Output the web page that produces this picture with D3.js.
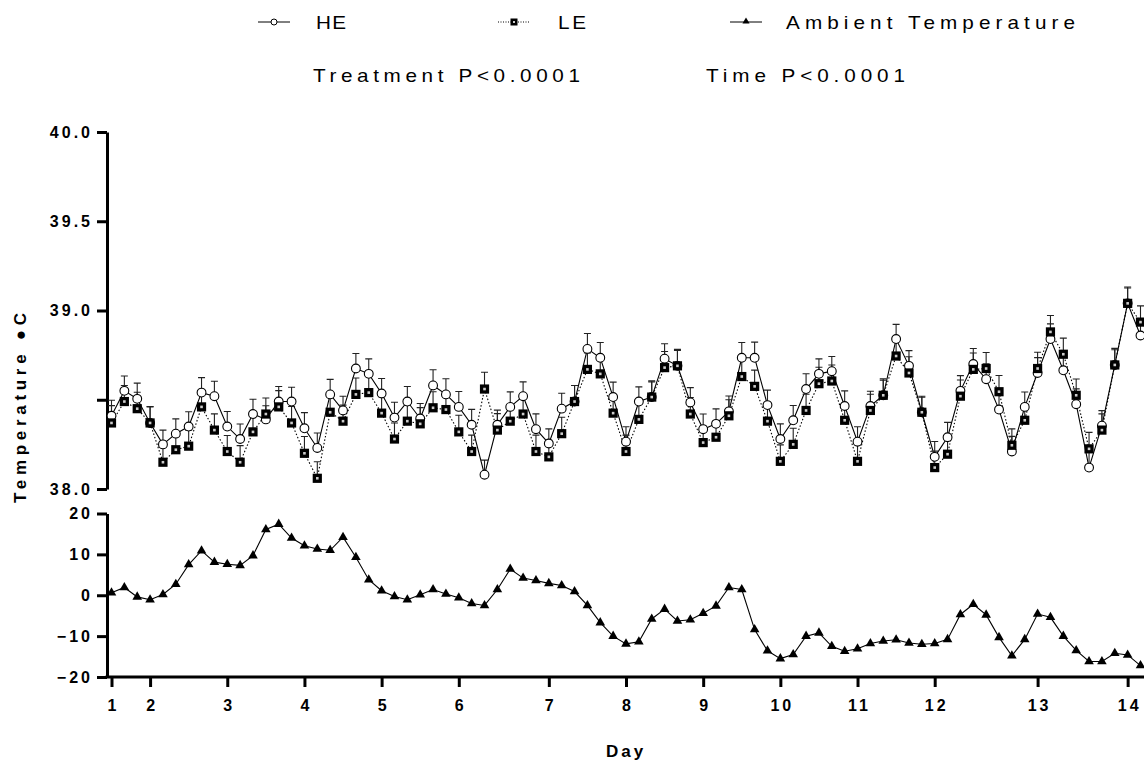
<!DOCTYPE html>
<html>
<head>
<meta charset="utf-8">
<script src="https://cdn.jsdelivr.net/npm/d3@7"></script>
<style>
  body { margin: 0; background: #fff; }
  text { font-family: "Liberation Sans", Arial, sans-serif; fill: #000; }
</style>
</head>
<body>
<svg id="chart" width="1144" height="768"></svg>
<script>
// Sampling points (every 4 h) with the day labels placed on them
const dayTicks  = [0, 3, 9, 15, 21, 27, 34, 40, 46, 52, 58, 64, 72, 79];
const dayLabels = ["1","2","3","4","5","6","7","8","9","10","11","12","13","14"];

// Body temperature, high-energy group (mean, °C)
const heMean = [38.41,38.55,38.505,38.37,38.25,38.31,38.35,38.54,38.52,38.35,38.28,38.42,38.39,38.49,38.49,38.34,38.23,38.53,38.44,38.675,38.645,
  38.535,38.40,38.49,38.395,38.58,38.53,38.46,38.36,38.08,38.36,38.46,38.52,38.335,38.255,38.45,38.49,38.785,38.735,38.515,38.265,
  38.49,38.515,38.73,38.69,38.485,38.335,38.365,38.435,38.735,38.735,38.47,38.28,38.385,38.56,38.645,38.66,38.465,38.265,38.465,38.525,
  38.84,38.69,38.43,38.18,38.29,38.55,38.70,38.615,38.445,38.21,38.46,38.65,38.84,38.665,38.475,38.12,38.355,38.695,39.04,38.86];
// Standard error, high-energy group
const heSem = [0.087,0.083,0.088,0.092,0.080,0.083,0.083,0.084,0.084,0.084,0.084,0.083,0.076,0.084,0.080,0.088,0.084,0.084,0.080,0.084,0.084,
  0.084,0.086,0.084,0.084,0.088,0.088,0.086,0.086,0.082,0.082,0.084,0.080,0.086,0.082,0.086,0.090,0.086,0.086,0.084,0.084,
  0.082,0.085,0.084,0.086,0.083,0.085,0.084,0.086,0.086,0.088,0.084,0.085,0.083,0.086,0.084,0.082,0.085,0.084,0.083,0.084,
  0.082,0.085,0.084,0.086,0.083,0.085,0.087,0.086,0.084,0.085,0.083,0.086,0.085,0.084,0.086,0.085,0.084,0.085,0.086,0.085];

// Body temperature, low-energy group (mean, °C)
const leMean = [38.37,38.49,38.45,38.37,38.15,38.22,38.24,38.46,38.33,38.21,38.15,38.32,38.42,38.46,38.37,38.20,38.06,38.43,38.38,38.53,38.54,
  38.425,38.28,38.38,38.365,38.455,38.445,38.32,38.21,38.56,38.33,38.38,38.42,38.21,38.18,38.31,38.49,38.67,38.645,38.425,38.21,
  38.39,38.515,38.68,38.69,38.42,38.26,38.29,38.41,38.63,38.575,38.38,38.155,38.25,38.44,38.59,38.605,38.385,38.155,38.44,38.525,
  38.745,38.65,38.43,38.12,38.195,38.52,38.67,38.675,38.545,38.245,38.385,38.675,38.88,38.755,38.525,38.225,38.33,38.695,39.04,38.935];
// Standard error, low-energy group
const leSem = [0.097,0.090,0.092,0.090,0.093,0.092,0.090,0.092,0.091,0.090,0.093,0.092,0.090,0.091,0.092,0.094,0.093,0.092,0.090,0.092,0.091,
  0.092,0.090,0.092,0.091,0.090,0.092,0.093,0.092,0.094,0.092,0.090,0.091,0.092,0.093,0.092,0.090,0.092,0.091,0.090,0.092,
  0.092,0.091,0.090,0.092,0.093,0.092,0.091,0.090,0.092,0.091,0.093,0.092,0.090,0.091,0.092,0.090,0.092,0.093,0.091,0.092,
  0.092,0.091,0.090,0.092,0.093,0.091,0.092,0.090,0.091,0.092,0.093,0.091,0.092,0.090,0.091,0.092,0.091,0.093,0.092,0.091];

// Ambient temperature (°C)
const ambient = [0.6,1.9,-0.4,-1.1,0.2,2.7,7.5,10.9,8.1,7.6,7.3,9.7,16.1,17.4,14.0,12.1,11.3,11.0,14.2,9.3,3.8,
  1.1,-0.3,-1.1,0.1,1.4,0.3,-0.6,-2.0,-2.5,1.4,6.4,4.2,3.6,2.9,2.4,0.9,-2.5,-6.7,-10.0,-11.9,
  -11.4,-5.8,-3.4,-6.3,-6.0,-4.4,-2.6,1.9,1.4,-8.4,-13.6,-15.5,-14.5,-10.0,-9.2,-12.5,-13.7,-13.1,-11.8,-11.2,
  -10.9,-11.7,-12.0,-11.8,-10.8,-4.7,-2.2,-4.8,-10.3,-14.8,-10.8,-4.6,-5.4,-10.0,-13.5,-16.2,-16.2,-14.2,-14.6,-17.2];

const bodyTicks  = [38.0, 38.5, 39.0, 39.5, 40.0];
const bodyLabels = ["38.0", "", "39.0", "39.5", "40.0"];
const ambTicks   = [-20, -10, 0, 10, 20];

const svg = d3.select("#chart");
const idx = d3.range(heMean.length);

const x    = d3.scaleLinear().domain([0, heMean.length - 1]).range([111.5, 1140.5]);
const yTop = d3.scaleLinear().domain([38, 40]).range([489, 132]);
const yBot = d3.scaleLinear().domain([-20, 20]).range([677, 513.5]);

const axisX = 107;
const FS = 16;        // axis text size
const LS = 3;         // letter spacing of axis text

function styleAxis(g) {
  g.select(".domain").attr("stroke-width", 3).attr("stroke", "#000");
  g.selectAll(".tick line").attr("stroke-width", 3).attr("stroke", "#000");
  g.selectAll(".tick text")
    .attr("font-size", FS).attr("font-weight", "bold")
    .attr("letter-spacing", LS).attr("fill", "#000");
}

// Body temperature axis
const gTop = svg.append("g").attr("transform", `translate(${axisX},0)`)
  .call(d3.axisLeft(yTop).tickValues(bodyTicks).tickFormat((d, i) => bodyLabels[i])
    .tickSize(10).tickPadding(7).tickSizeOuter(0));
styleAxis(gTop);
gTop.selectAll(".tick text").attr("x", -17 + LS);

// Ambient temperature axis
const gBot = svg.append("g").attr("transform", `translate(${axisX},0)`)
  .call(d3.axisLeft(yBot).tickValues(ambTicks).tickFormat(d3.format("d"))
    .tickSize(10).tickPadding(7).tickSizeOuter(0));
styleAxis(gBot);
gBot.selectAll(".tick text").attr("x", -17 + LS);

// Day axis
const gX = svg.append("g").attr("transform", `translate(0,${yBot(-20)})`)
  .call(d3.axisBottom(x).tickValues(dayTicks).tickFormat((d, i) => dayLabels[i])
    .tickSize(10).tickPadding(13).tickSizeOuter(0));
styleAxis(gX);
gX.select(".domain").remove();
gX.selectAll(".tick text").attr("dx", LS / 2);
svg.append("line")
  .attr("x1", axisX - 1.5).attr("x2", 1144)
  .attr("y1", yBot(-20)).attr("y2", yBot(-20))
  .attr("stroke", "#000").attr("stroke-width", 3);

// Axis titles
svg.append("text")
  .attr("x", 626).attr("y", 757).attr("text-anchor", "middle")
  .attr("font-size", 17).attr("font-weight", "bold").attr("letter-spacing", 3)
  .text("Day");
svg.append("text")
  .attr("transform", "translate(26,408) rotate(-90)")
  .attr("text-anchor", "middle")
  .attr("font-size", 17).attr("font-weight", "bold")
  .attr("textLength", 190).attr("lengthAdjust", "spacing")
  .text("Temperature \u25CFC");

// Lines
const lineHE  = d3.line().x(i => x(i)).y(i => yTop(heMean[i]));
const lineLE  = d3.line().x(i => x(i)).y(i => yTop(leMean[i]));
const lineAmb = d3.line().x(i => x(i)).y(i => yBot(ambient[i]));

svg.append("path").attr("d", lineLE(idx)).attr("fill", "none")
  .attr("stroke", "#000").attr("stroke-width", 1.1).attr("stroke-dasharray", "1.5,2");
svg.append("path").attr("d", lineHE(idx)).attr("fill", "none")
  .attr("stroke", "#000").attr("stroke-width", 1.1);
svg.append("path").attr("d", lineAmb(idx)).attr("fill", "none")
  .attr("stroke", "#000").attr("stroke-width", 1.1);

// Error bars (upper SEM)
function errBars(mean, sem) {
  svg.append("g").selectAll("path").data(idx).join("path")
    .attr("d", i => {
      const cx = x(i), y0 = yTop(mean[i]), y1 = yTop(mean[i] + sem[i]);
      return `M${cx},${y0}V${y1}M${cx - 3.5},${y1}H${cx + 3.5}`;
    })
    .attr("fill", "none").attr("stroke", "#222").attr("stroke-width", 1.1);
}
errBars(heMean, heSem);
errBars(leMean, leSem);

// HE markers: open circles
svg.append("g").selectAll("circle").data(idx).join("circle")
  .attr("cx", i => x(i)).attr("cy", i => yTop(heMean[i])).attr("r", 4.4)
  .attr("fill", "#fff").attr("stroke", "#000").attr("stroke-width", 1.1);

// LE markers: filled squares with a light centre
const leG = svg.append("g").selectAll("g").data(idx).join("g")
  .attr("transform", i => `translate(${x(i)},${yTop(leMean[i])})`);
leG.append("rect").attr("x", -4.6).attr("y", -4.6).attr("width", 9.2).attr("height", 9.2).attr("fill", "#000");
leG.append("rect").attr("x", -1.3).attr("y", -1.3).attr("width", 2.6).attr("height", 2.6).attr("fill", "#ccc");

// Ambient markers: filled triangles
const tri = d3.symbol().type(d3.symbolTriangle).size(40);
svg.append("g").selectAll("path").data(idx).join("path")
  .attr("transform", i => `translate(${x(i)},${yBot(ambient[i])})`)
  .attr("d", tri).attr("fill", "#000");

// Header text: letter-spaced, slightly widened face
const LFS = 18, STRETCH = 1.15;
function headerText(x0, y0, width, str) {
  svg.append("text")
    .attr("transform", `translate(${x0},${y0}) scale(${STRETCH},1)`)
    .attr("font-size", LFS)
    .attr("textLength", width / STRETCH).attr("lengthAdjust", "spacing")
    .text(str);
}

// Legend
const lg = svg.append("g");
lg.append("line").attr("x1", 258).attr("x2", 290).attr("y1", 22).attr("y2", 22).attr("stroke", "#000");
lg.append("circle").attr("cx", 274).attr("cy", 22).attr("r", 3).attr("fill", "#fff").attr("stroke", "#000");
headerText(316, 28.5, 30, "HE");

lg.append("line").attr("x1", 498).attr("x2", 530).attr("y1", 22).attr("y2", 22)
  .attr("stroke", "#000").attr("stroke-dasharray", "1,1.5");
lg.append("rect").attr("x", 510.5).attr("y", 18.5).attr("width", 7).attr("height", 7).attr("fill", "#000");
lg.append("rect").attr("x", 513).attr("y", 21).attr("width", 2).attr("height", 2).attr("fill", "#ccc");
headerText(558, 28.5, 28, "LE");

lg.append("line").attr("x1", 730).attr("x2", 762).attr("y1", 22).attr("y2", 22).attr("stroke", "#000");
lg.append("path").attr("transform", "translate(746,21.5)")
  .attr("d", d3.symbol().type(d3.symbolTriangle).size(22)).attr("fill", "#000");
headerText(786, 28.5, 289, "Ambient Temperature");

// Statistics
headerText(313, 81.5, 267, "Treatment P<0.0001");
headerText(706, 81.5, 199, "Time P<0.0001");
</script>
</body>
</html>
